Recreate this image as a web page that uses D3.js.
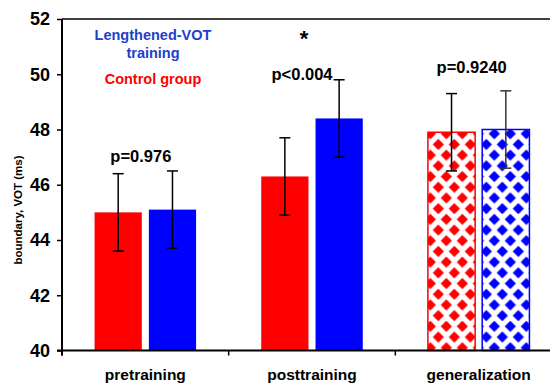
<!DOCTYPE html>
<html lang="en">
<head>
<meta charset="utf-8">
<script src="https://cdnjs.cloudflare.com/ajax/libs/d3/7.8.5/d3.min.js"></script>
<title>VOT boundary</title>
<style>
  body { margin: 0; background: #fff; }
  svg text { font-family: "Liberation Sans", Arial, sans-serif; font-weight: bold; }
</style>
</head>
<body>
<div id="chart"></div>
<script>
  // data
  const categories = ["pretraining", "posttraining", "generalization"];
  const groups = ["control", "trained"];
  const controlMeans = [45.0, 46.3, 47.9];
  const trainedMeans = [45.1, 48.4, 48.0];
  const controlErr = [1.4, 1.4, 1.4];
  const trainedErr = [1.4, 1.4, 1.4];
  const yTicks = [40, 42, 44, 46, 48, 50, 52];
  const pLabels = ["p=0.976", "p<0.004", "p=0.9240"];
  const pLabelY = [46.84, 49.8, 50.05];
  const pLabelShift = [-4.5, -10, -7];

  const width = 550, height = 384;
  const svg = d3.select("#chart").append("svg").attr("width", width).attr("height", height);

  const y = d3.scaleLinear().domain([40, 52]).range([350.5, 19]);
  const x0 = d3.scaleBand().domain(categories).range([62, 562]);
  const x1 = d3.scaleBand().domain(groups).range([0, x0.bandwidth()]).paddingInner(0.13).paddingOuter(0.6);
  const color = {control: "#ff0000", trained: "#0000ff"};

  // diamond patterns for the generalization bars
  const defs = svg.append("defs");
  groups.forEach(function(gname){
    const p = defs.append("pattern").attr("id", "diamond-" + gname)
      .attr("patternUnits", "userSpaceOnUse")
      .attr("x", 427).attr("y", 0)
      .attr("width", 16).attr("height", 21.4);
    p.append("rect").attr("width", 16).attr("height", 21.4).attr("fill", "#fff");
    const dia = function(cx, cy){
      const r = 5.6;
      return "M" + cx + "," + (cy - r) + "L" + (cx + r) + "," + cy + "L" + cx + "," + (cy + r) + "L" + (cx - r) + "," + cy + "Z";
    };
    p.append("path").attr("d", dia(8, 5.35) + dia(0, 16.05) + dia(16, 16.05)).attr("fill", color[gname]);
  });

  const rows = categories.map(function(c, i){
    return {cat: c, i: i, values: [
      {g: "control", v: controlMeans[i], e: controlErr[i]},
      {g: "trained", v: trainedMeans[i], e: trainedErr[i]}
    ]};
  });

  const catG = svg.selectAll(".cat").data(rows).enter().append("g")
    .attr("class", "cat")
    .attr("transform", function(d){ return "translate(" + x0(d.cat) + ",0)"; });

  catG.selectAll(".bar").data(function(d){ return d.values.map(function(v){ v.i = d.i; return v; }); })
    .enter().append("rect")
    .attr("class", "bar")
    .attr("x", function(d){ return x1(d.g); })
    .attr("width", x1.bandwidth())
    .attr("y", function(d){ return y(d.v); })
    .attr("height", function(d){ return y(40) - y(d.v); })
    .attr("fill", function(d){ return d.i == 2 ? "url(#diamond-" + d.g + ")" : color[d.g]; })
    .attr("stroke", function(d){ return d.i == 2 ? color[d.g] : "none"; })
    .attr("stroke-width", 1.5);

  // error bars
  const eb = catG.selectAll(".err").data(function(d){ return d.values; })
    .enter().append("g").attr("class", "err")
    .attr("stroke", function(d){ return d.i == 2 && d.g == "trained" ? "#333" : "#000"; })
    .attr("stroke-width", 1.5);
  eb.append("line")
    .attr("x1", function(d){ return x1(d.g) + x1.bandwidth() / 2; })
    .attr("x2", function(d){ return x1(d.g) + x1.bandwidth() / 2; })
    .attr("y1", function(d){ return y(d.v - d.e); })
    .attr("y2", function(d){ return y(d.v + d.e); });
  [-1, 1].forEach(function(s){
    eb.append("line")
      .attr("x1", function(d){ return x1(d.g) + x1.bandwidth() / 2 - 5.5; })
      .attr("x2", function(d){ return x1(d.g) + x1.bandwidth() / 2 + 5.5; })
      .attr("y1", function(d){ return y(d.v + s * d.e); })
      .attr("y2", function(d){ return y(d.v + s * d.e); });
  });

  // p values
  svg.selectAll(".plab").data(pLabels).enter().append("text")
    .attr("class", "plab")
    .attr("x", function(d, i){ return x0(categories[i]) + x0.bandwidth() / 2 + pLabelShift[i]; })
    .attr("y", function(d, i){ return y(pLabelY[i]); })
    .attr("text-anchor", "middle")
    .style("font-size", "16.5px")
    .text(function(d){ return d; });

  svg.append("text")
    .attr("x", x0("posttraining") + x0.bandwidth() / 2 - 8)
    .attr("y", 46)
    .attr("text-anchor", "middle")
    .style("font-size", "22px")
    .text("*");

  // legend text
  const leg = svg.append("g").attr("text-anchor", "middle").style("font-size", "14.5px");
  leg.append("text").attr("x", 153).attr("y", 40).attr("fill", "#1c3fcc").text("Lengthened-VOT");
  leg.append("text").attr("x", 153).attr("y", 58).attr("fill", "#1c3fcc").text("training");
  leg.append("text").attr("x", 153).attr("y", 83.5).attr("fill", "#ff0000").text("Control group");

  // axes
  const yAxis = svg.append("g").attr("transform", "translate(62,0)")
    .call(d3.axisLeft(y).tickValues(yTicks).tickSize(5).tickPadding(7));
  yAxis.select(".domain").remove();
  yAxis.selectAll("line").attr("stroke-width", 1.5);
  yAxis.selectAll("text").style("font-size", "18px").attr("fill", "#000");

  svg.append("line").attr("x1", 62).attr("x2", 62).attr("y1", 19).attr("y2", 355.5)
    .attr("stroke", "#000").attr("stroke-width", 2);
  svg.append("line").attr("x1", 62).attr("x2", 550).attr("y1", 19).attr("y2", 19)
    .attr("stroke", "#000").attr("stroke-width", 1.5);

  const xAxis = svg.append("g").attr("transform", "translate(0," + y(40) + ")")
    .call(d3.axisBottom(x0).tickSize(0).tickPadding(18));
  xAxis.select(".domain").remove();
  xAxis.selectAll("text").style("font-size", "15.5px").attr("fill", "#000");
  svg.append("line").attr("x1", 57).attr("x2", 550).attr("y1", y(40)).attr("y2", y(40))
    .attr("stroke", "#000").attr("stroke-width", 2);
  svg.selectAll(".xtick").data(categories).enter().append("line")
    .attr("class", "xtick")
    .attr("x1", function(d){ return x0(d); }).attr("x2", function(d){ return x0(d); })
    .attr("y1", y(40)).attr("y2", y(40) + 5)
    .attr("stroke", "#000").attr("stroke-width", 1.5);

  svg.append("text")
    .attr("transform", "translate(22,210) rotate(-90)")
    .attr("text-anchor", "middle")
    .style("font-size", "11.5px")
    .text("boundary, VOT (ms)");
</script>
</body>
</html>
